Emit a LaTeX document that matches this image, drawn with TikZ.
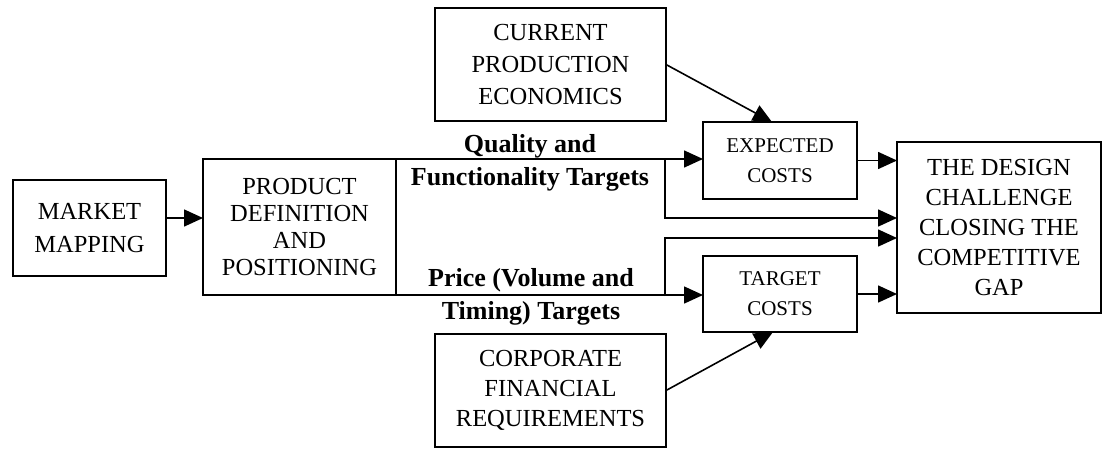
\documentclass[tikz,border=0pt]{standalone}
\usepackage{fontspec}
\setmainfont{Liberation Serif}
\usetikzlibrary{arrows.meta}

\begin{document}
\begin{tikzpicture}[x=1pt, y=-1pt, line width=1.6pt,
    box/.style={draw, align=center, inner sep=0pt, outer sep=0pt, font=\fontsize{24.5}{30}\selectfont},
    small box/.style={box, font=\fontsize{21}{30}\selectfont},
    target label/.style={align=center, inner sep=0pt, font=\fontsize{26}{33}\selectfont\bfseries},
    arrow/.style={-{Triangle[length=19pt, width=17pt]}}]
    \useasboundingbox (0,0) rectangle (1103,448);

    % boxes
    \node[box, minimum width=153, minimum height=96, font=\fontsize{24.5}{33}\selectfont](market) at (89.5, 228) {MARKET\\MAPPING};
    \node[box, minimum width=193, minimum height=136, font=\fontsize{24.5}{27}\selectfont](product) at (299.5, 227) {PRODUCT\\DEFINITION\\AND\\POSITIONING};
    \node[box, minimum width=231, minimum height=113, font=\fontsize{24.5}{32}\selectfont](current) at (550.5, 64.5) {CURRENT\\PRODUCTION\\ECONOMICS};
    \node[box, minimum width=231, minimum height=113](corporate) at (550.5, 390.5) {CORPORATE\\FINANCIAL\\REQUIREMENTS};
    \node[small box, minimum width=154, minimum height=77](expected) at (780, 160.5) {EXPECTED\\COSTS};
    \node[small box, minimum width=154, minimum height=76](target) at (780, 294) {TARGET\\COSTS};
    \node[box, minimum width=204, minimum height=171](design) at (999, 227.5) {THE DESIGN\\CHALLENGE\\CLOSING THE\\COMPETITIVE\\GAP};

    % labels on the two target lines
    \node[target label](quality) at (530, 163) {Quality and\\Functionality Targets};
    \node[target label](price) at (531, 297) {Price (Volume and\\Timing) Targets};

    \coordinate (qa) at (665, 160);
    \coordinate (qb) at (665, 218);
    \coordinate (pa) at (665, 296);
    \coordinate (pb) at (665, 238);

    \draw[arrow] ([yshift=10pt]market.east) -- ([yshift=9pt]product.west);

    % quality path
    \draw[arrow] (product.north east) -- (product.north east -| expected.west);
    \draw[arrow] (qa) |- (qb -| design.west);

    % price path
    \draw[arrow] (product.south east) -- (product.south east -| target.west);
    \draw[arrow] (pa) |- (pb -| design.west);

    \draw[arrow] (current.east) -- ([xshift=-8pt]expected.north);
    \draw[arrow] (corporate.east) -- ([xshift=-7pt]target.south);
    \draw[arrow] (expected.east) -- (expected.east -| design.west);
    \draw[arrow] (target.east) -- (target.east -| design.west);
\end{tikzpicture}
\end{document}
